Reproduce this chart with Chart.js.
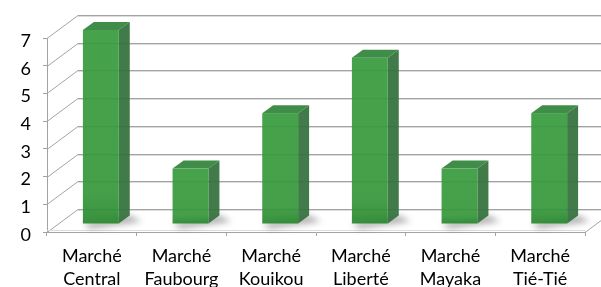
<!DOCTYPE html>
<html>
<head>
<meta charset="utf-8">
<script src="https://cdn.jsdelivr.net/npm/chart.js@4"></script>
<style>
html,body{margin:0;padding:0;background:#fff;}
#wrap{width:601px;height:287px;}
</style>
</head>
<body>
<div id="wrap"><canvas id="c" width="601" height="287"></canvas></div>
<script>
const categories = [["Marché","Central"],["Marché","Faubourg"],["Marché","Kouikou"],["Marché","Liberté"],["Marché","Mayaka"],["Marché","Tié-Tié"]];
const values = [7, 2, 4, 6, 2, 4];
const yTicks = [0, 1, 2, 3, 4, 5, 6, 7];

const WALL_DX = 31, WALL_DY = 23;   // depth of the 3D floor/wall
const BAR_DX = 9, BAR_DY = 8;       // bar front plane offset
const SIDE_DX = 11, SIDE_DY = 8;    // bar depth

const threeD = {
  id: 'threeD',
  beforeDatasetsDraw(chart) {
    const ctx = chart.ctx;
    const {left, right, bottom} = chart.chartArea;
    const ys = chart.scales.y;
    ctx.save();
    ctx.lineWidth = 1;
    yTicks.forEach(v => {
      const py = Math.round(ys.getPixelForValue(v));
      ctx.strokeStyle = '#dcdcdc';
      ctx.beginPath();
      ctx.moveTo(left + WALL_DX, py - WALL_DY + 1.5);
      ctx.lineTo(right + WALL_DX, py - WALL_DY + 1.5);
      ctx.stroke();
      ctx.strokeStyle = '#a3a3a3';
      ctx.beginPath();
      ctx.moveTo(left, py + 0.5);
      ctx.lineTo(left + WALL_DX, py - WALL_DY + 0.5);
      ctx.lineTo(right + WALL_DX, py - WALL_DY + 0.5);
      ctx.stroke();
    });
    ctx.strokeStyle = '#a3a3a3';
    ctx.beginPath();
    ctx.moveTo(right, bottom + 0.5);
    ctx.lineTo(right + WALL_DX, bottom - WALL_DY + 0.5);
    ctx.stroke();
    ctx.strokeStyle = '#dcdcdc';
    ctx.beginPath();
    ctx.moveTo(left, bottom - 1.5);
    ctx.lineTo(right, bottom - 1.5);
    ctx.stroke();
    ctx.restore();
  },
  afterDatasetsDraw(chart) {
    const ctx = chart.ctx;
    const meta = chart.getDatasetMeta(0);
    ctx.save();
    meta.data.forEach(el => {
      const w = el.width;
      const fl = el.x - w / 2 + BAR_DX;
      const fr = el.x + w / 2 + BAR_DX;
      const ft = el.y - BAR_DY;
      const fb = el.base - BAR_DY;
      ctx.save();
      ctx.filter = 'blur(3px)';
      ctx.fillStyle = 'rgba(0,0,0,0.32)';
      ctx.beginPath();
      ctx.moveTo(fl, fb);
      ctx.lineTo(fr + SIDE_DX, fb - SIDE_DY);
      ctx.lineTo(fr + SIDE_DX + 12, fb - SIDE_DY + 6);
      ctx.lineTo(fl + 8, fb + 5);
      ctx.closePath();
      ctx.fill();
      ctx.restore();
      ctx.globalAlpha = 0.93;
      ctx.fillStyle = '#33713b';
      ctx.beginPath();
      ctx.moveTo(fr, ft);
      ctx.lineTo(fr + SIDE_DX, ft - SIDE_DY);
      ctx.lineTo(fr + SIDE_DX, fb - SIDE_DY);
      ctx.lineTo(fr, fb);
      ctx.closePath();
      ctx.fill();
      ctx.fillStyle = '#32843b';
      ctx.beginPath();
      ctx.moveTo(fl, ft);
      ctx.lineTo(fl + SIDE_DX, ft - SIDE_DY);
      ctx.lineTo(fr + SIDE_DX, ft - SIDE_DY);
      ctx.lineTo(fr, ft);
      ctx.closePath();
      ctx.fill();
      const g = ctx.createLinearGradient(0, ft, 0, fb);
      g.addColorStop(0, '#389b3d');
      g.addColorStop(0.85, '#37983c');
      g.addColorStop(1, '#2a8830');
      ctx.fillStyle = g;
      ctx.fillRect(fl, ft, fr - fl, fb - ft);
      ctx.globalAlpha = 1;
    });
    ctx.restore();
  }
};

new Chart(document.getElementById('c'), {
  type: 'bar',
  data: {
    labels: categories,
    datasets: [{
      data: values,
      backgroundColor: 'rgba(0,0,0,0)',
      borderWidth: 0,
      barPercentage: 0.4,
      categoryPercentage: 1.0
    }]
  },
  options: {
    responsive: false,
    animation: false,
    events: [],
    layout: { padding: { left: 0, right: 16, top: 38, bottom: 0 } },
    plugins: { legend: { display: false }, tooltip: { enabled: false } },
    scales: {
      x: {
        offset: true,
        grid: { drawOnChartArea: false, drawTicks: true, tickLength: 4, color: '#a3a3a3', offset: true },
        border: { display: true, color: '#a3a3a3' },
        ticks: { color: '#000', padding: 9, maxRotation: 0, autoSkip: false,
                 font: { family: 'Lato, "Open Sans", sans-serif', size: 18, lineHeight: 1.25 } },
        afterFit: s => { s.height = 55; }
      },
      y: {
        min: 0, max: 7,
        afterBuildTicks: s => { s.ticks = yTicks.map(v => ({ value: v })); },
        grid: { drawOnChartArea: false, drawTicks: true, tickLength: 4, color: '#a3a3a3' },
        border: { display: true, color: '#a3a3a3' },
        ticks: { color: '#000', padding: 12, labelOffset: 3,
                 font: { family: 'Lato, "Open Sans", sans-serif', size: 18 } },
        afterFit: s => { s.width = 47; }
      }
    }
  },
  plugins: [threeD]
});
</script>
</body>
</html>
